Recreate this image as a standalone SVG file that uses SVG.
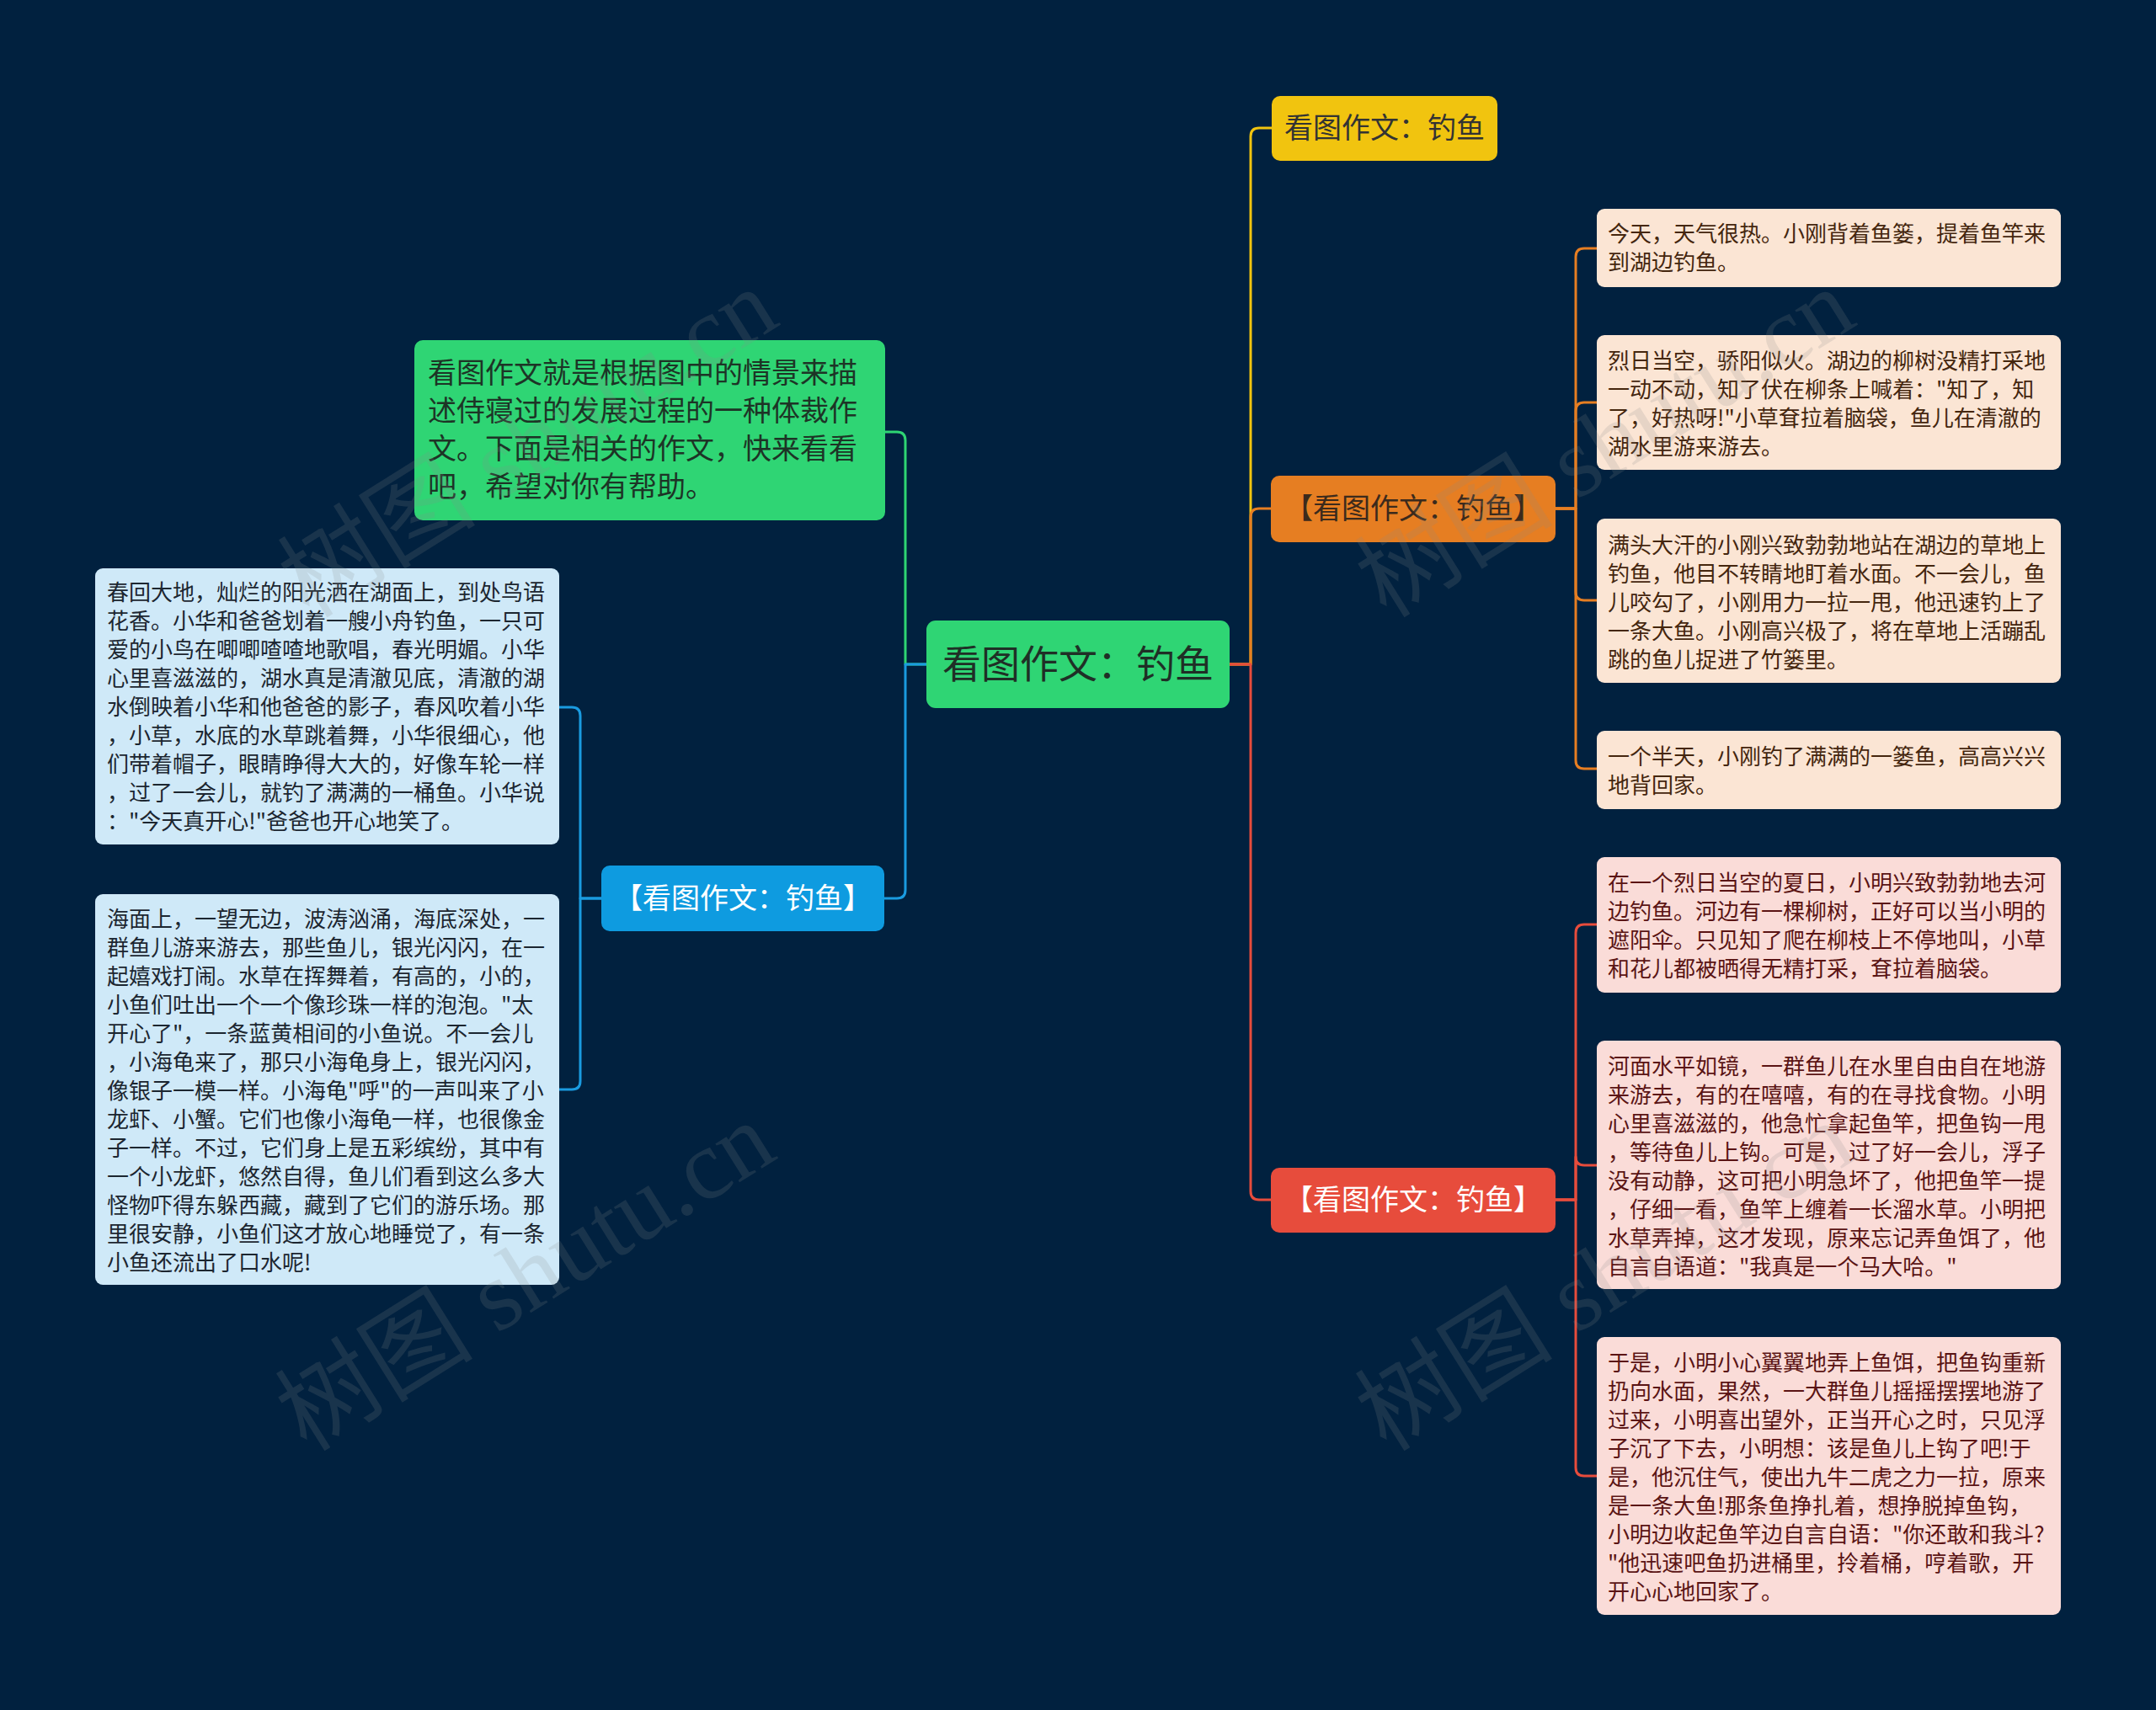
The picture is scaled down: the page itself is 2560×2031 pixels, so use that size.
<svg xmlns="http://www.w3.org/2000/svg" width="2560" height="2031" viewBox="0 0 2560 2031">
<style>
.cjk{font-family:"Noto Sans CJK SC","Noto Sans",sans-serif;}
.t26{font-size:26px;}
.t34{font-size:34px;}
.t46{font-size:46px;}
.c{stroke-width:3;fill:none;stroke-linecap:round;stroke-linejoin:round;}
.cb{stroke:#1a9be0;}
.cg{stroke:#2ed573;}
.cy{stroke:#f1c40f;}
.co{stroke:#e67e22;}
.cr{stroke:#e74c3c;}
.lb{fill:#cfe9f8;}
.lo{fill:#fbe5d4;}
.lr{fill:#fadcd8;}
.tb{fill:#1c2630;}
.to{fill:#44260e;}
.tr{fill:#5a1414;}
.wm{font-size:118px;fill:#8a8a8a;fill-opacity:0.18;}
</style>
<rect x="0" y="0" width="2560" height="2031" fill="#01213f"/>

<g id="connectors">
  <path class="c cg" d="M1100,789 H1075 V523 Q1075,513 1065,513 H1051"/>
  <path class="c cb" d="M1100,789 H1075 V1057 Q1075,1067 1065,1067 H1050"/>
  <path class="c cb" d="M714,1067 H689 V850 Q689,840 679,840 H664"/>
  <path class="c cb" d="M714,1067 H689 V1284 Q689,1294 679,1294 H664"/>
  <path class="c cy" d="M1460,789 H1485 V162 Q1485,152 1495,152 H1510"/>
  <path class="c co" d="M1460,789 H1485 V614 Q1485,604 1495,604 H1509"/>
  <path class="c cr" d="M1460,789 H1485 V1415 Q1485,1425 1495,1425 H1509"/>
  <path class="c co" d="M1847,604 H1871 V305 Q1871,295 1881,295 H1896"/>
  <path class="c co" d="M1847,604 H1871 V488 Q1871,478 1881,478 H1896"/>
  <path class="c co" d="M1847,604 H1871 V703 Q1871,713 1881,713 H1896"/>
  <path class="c co" d="M1847,604 H1871 V903 Q1871,913 1881,913 H1896"/>
  <path class="c cr" d="M1847,1425 H1871 V1108 Q1871,1098 1881,1098 H1896"/>
  <path class="c cr" d="M1847,1425 H1871 V1374 Q1871,1384 1881,1384 H1896"/>
  <path class="c cr" d="M1847,1425 H1871 V1743 Q1871,1753 1881,1753 H1896"/>
</g>

<g id="center">
  <rect x="1100" y="737" width="360" height="104" rx="11" fill="#2fd574"/>
  <text class="cjk t46" x="1280" y="805" text-anchor="middle" fill="#1f2f26">看图作文：钓鱼</text>
</g>

<g id="intro">
  <rect x="492" y="404" width="559" height="214" rx="10" fill="#2fd574"/>
  <text class="cjk t34" fill="#1d3426">
    <tspan x="508" y="455">看图作文就是根据图中的情景来描</tspan>
    <tspan x="508" y="500">述侍寝过的发展过程的一种体裁作</tspan>
    <tspan x="508" y="545">文。下面是相关的作文，快来看看</tspan>
    <tspan x="508" y="590">吧，希望对你有帮助。</tspan>
  </text>
</g>

<g id="blue-branch">
  <rect x="714" y="1028" width="336" height="78" rx="10" fill="#0e9be0"/>
  <text class="cjk t34" x="882" y="1079" text-anchor="middle" fill="#ffffff">【看图作文：钓鱼】</text>
</g>

<g id="left-1">
  <rect class="lb" x="113" y="675" width="551" height="328" rx="9"/>
  <text class="cjk t26 tb">
    <tspan x="127" y="713">春回大地，灿烂的阳光洒在湖面上，到处鸟语</tspan>
    <tspan x="127" y="747">花香。小华和爸爸划着一艘小舟钓鱼，一只可</tspan>
    <tspan x="127" y="781">爱的小鸟在唧唧喳喳地歌唱，春光明媚。小华</tspan>
    <tspan x="127" y="815">心里喜滋滋的，湖水真是清澈见底，清澈的湖</tspan>
    <tspan x="127" y="849">水倒映着小华和他爸爸的影子，春风吹着小华</tspan>
    <tspan x="127" y="883">，小草，水底的水草跳着舞，小华很细心，他</tspan>
    <tspan x="127" y="917">们带着帽子，眼睛睁得大大的，好像车轮一样</tspan>
    <tspan x="127" y="951">，过了一会儿，就钓了满满的一桶鱼。小华说</tspan>
    <tspan x="127" y="985">："今天真开心!"爸爸也开心地笑了。</tspan>
  </text>
</g>

<g id="left-2">
  <rect class="lb" x="113" y="1062" width="551" height="464" rx="9"/>
  <text class="cjk t26 tb">
    <tspan x="127" y="1101">海面上，一望无边，波涛汹涌，海底深处，一</tspan>
    <tspan x="127" y="1135">群鱼儿游来游去，那些鱼儿，银光闪闪，在一</tspan>
    <tspan x="127" y="1169">起嬉戏打闹。水草在挥舞着，有高的，小的，</tspan>
    <tspan x="127" y="1203">小鱼们吐出一个一个像珍珠一样的泡泡。"太</tspan>
    <tspan x="127" y="1237">开心了"，一条蓝黄相间的小鱼说。不一会儿</tspan>
    <tspan x="127" y="1271">，小海龟来了，那只小海龟身上，银光闪闪，</tspan>
    <tspan x="127" y="1305">像银子一模一样。小海龟"呼"的一声叫来了小</tspan>
    <tspan x="127" y="1339">龙虾、小蟹。它们也像小海龟一样，也很像金</tspan>
    <tspan x="127" y="1373">子一样。不过，它们身上是五彩缤纷，其中有</tspan>
    <tspan x="127" y="1407">一个小龙虾，悠然自得，鱼儿们看到这么多大</tspan>
    <tspan x="127" y="1441">怪物吓得东躲西藏，藏到了它们的游乐场。那</tspan>
    <tspan x="127" y="1475">里很安静，小鱼们这才放心地睡觉了，有一条</tspan>
    <tspan x="127" y="1509">小鱼还流出了口水呢!</tspan>
  </text>
</g>

<g id="yellow-branch">
  <rect x="1510" y="114" width="268" height="77" rx="10" fill="#f1c40f"/>
  <text class="cjk t34" x="1644" y="164" text-anchor="middle" fill="#333333">看图作文：钓鱼</text>
</g>

<g id="orange-branch">
  <rect x="1509" y="565" width="338" height="79" rx="10" fill="#e67e22"/>
  <text class="cjk t34" x="1678" y="616" text-anchor="middle" fill="#3b2a1c">【看图作文：钓鱼】</text>
</g>

<g id="red-branch">
  <rect x="1509" y="1387" width="338" height="77" rx="10" fill="#e74c3c"/>
  <text class="cjk t34" x="1678" y="1437" text-anchor="middle" fill="#ffffff">【看图作文：钓鱼】</text>
</g>

<g id="right-1">
  <rect class="lo" x="1896" y="248" width="551" height="93" rx="9"/>
  <text class="cjk t26 to">
    <tspan x="1909" y="287">今天，天气很热。小刚背着鱼篓，提着鱼竿来</tspan>
    <tspan x="1909" y="321">到湖边钓鱼。</tspan>
  </text>
</g>

<g id="right-2">
  <rect class="lo" x="1896" y="398" width="551" height="160" rx="9"/>
  <text class="cjk t26 to">
    <tspan x="1909" y="438">烈日当空，骄阳似火。湖边的柳树没精打采地</tspan>
    <tspan x="1909" y="472">一动不动，知了伏在柳条上喊着："知了，知</tspan>
    <tspan x="1909" y="506">了，好热呀!"小草耷拉着脑袋，鱼儿在清澈的</tspan>
    <tspan x="1909" y="540">湖水里游来游去。</tspan>
  </text>
</g>

<g id="right-3">
  <rect class="lo" x="1896" y="616" width="551" height="195" rx="9"/>
  <text class="cjk t26 to">
    <tspan x="1909" y="657">满头大汗的小刚兴致勃勃地站在湖边的草地上</tspan>
    <tspan x="1909" y="691">钓鱼，他目不转睛地盯着水面。不一会儿，鱼</tspan>
    <tspan x="1909" y="725">儿咬勾了，小刚用力一拉一甩，他迅速钓上了</tspan>
    <tspan x="1909" y="759">一条大鱼。小刚高兴极了，将在草地上活蹦乱</tspan>
    <tspan x="1909" y="793">跳的鱼儿捉进了竹篓里。</tspan>
  </text>
</g>

<g id="right-4">
  <rect class="lo" x="1896" y="868" width="551" height="93" rx="9"/>
  <text class="cjk t26 to">
    <tspan x="1909" y="908">一个半天，小刚钓了满满的一篓鱼，高高兴兴</tspan>
    <tspan x="1909" y="942">地背回家。</tspan>
  </text>
</g>

<g id="right-5">
  <rect class="lr" x="1896" y="1018" width="551" height="161" rx="9"/>
  <text class="cjk t26 tr">
    <tspan x="1909" y="1058">在一个烈日当空的夏日，小明兴致勃勃地去河</tspan>
    <tspan x="1909" y="1092">边钓鱼。河边有一棵柳树，正好可以当小明的</tspan>
    <tspan x="1909" y="1126">遮阳伞。只见知了爬在柳枝上不停地叫，小草</tspan>
    <tspan x="1909" y="1160">和花儿都被晒得无精打采，耷拉着脑袋。</tspan>
  </text>
</g>

<g id="right-6">
  <rect class="lr" x="1896" y="1236" width="551" height="295" rx="9"/>
  <text class="cjk t26 tr">
    <tspan x="1909" y="1276">河面水平如镜，一群鱼儿在水里自由自在地游</tspan>
    <tspan x="1909" y="1310">来游去，有的在嘻嘻，有的在寻找食物。小明</tspan>
    <tspan x="1909" y="1344">心里喜滋滋的，他急忙拿起鱼竿，把鱼钩一甩</tspan>
    <tspan x="1909" y="1378">，等待鱼儿上钩。可是，过了好一会儿，浮子</tspan>
    <tspan x="1909" y="1412">没有动静，这可把小明急坏了，他把鱼竿一提</tspan>
    <tspan x="1909" y="1446">，仔细一看，鱼竿上缠着一长溜水草。小明把</tspan>
    <tspan x="1909" y="1480">水草弄掉，这才发现，原来忘记弄鱼饵了，他</tspan>
    <tspan x="1909" y="1514">自言自语道："我真是一个马大哈。"</tspan>
  </text>
</g>

<g id="right-7">
  <rect class="lr" x="1896" y="1588" width="551" height="330" rx="9"/>
  <text class="cjk t26 tr">
    <tspan x="1909" y="1628">于是，小明小心翼翼地弄上鱼饵，把鱼钩重新</tspan>
    <tspan x="1909" y="1662">扔向水面，果然，一大群鱼儿摇摇摆摆地游了</tspan>
    <tspan x="1909" y="1696">过来，小明喜出望外，正当开心之时，只见浮</tspan>
    <tspan x="1909" y="1730">子沉了下去，小明想：该是鱼儿上钩了吧!于</tspan>
    <tspan x="1909" y="1764">是，他沉住气，使出九牛二虎之力一拉，原来</tspan>
    <tspan x="1909" y="1798">是一条大鱼!那条鱼挣扎着，想挣脱掉鱼钩，</tspan>
    <tspan x="1909" y="1832">小明边收起鱼竿边自言自语："你还敢和我斗?</tspan>
    <tspan x="1909" y="1866">"他迅速吧鱼扔进桶里，拎着桶，哼着歌，开</tspan>
    <tspan x="1909" y="1900">开心心地回家了。</tspan>
  </text>
</g>

<g id="watermarks" class="wm">
  <text font-family="'Liberation Serif','Noto Sans CJK SC',serif" text-anchor="middle" transform="translate(648,560) rotate(-32)">树图 shutu.cn</text>
  <text font-family="'Liberation Serif','Noto Sans CJK SC',serif" text-anchor="middle" transform="translate(1927,560) rotate(-32)">树图 shutu.cn</text>
  <text font-family="'Liberation Serif','Noto Sans CJK SC',serif" text-anchor="middle" transform="translate(645,1550) rotate(-32)">树图 shutu.cn</text>
  <text font-family="'Liberation Serif','Noto Sans CJK SC',serif" text-anchor="middle" transform="translate(1927,1550) rotate(-32)">树图 shutu.cn</text>
</g>
</svg>
